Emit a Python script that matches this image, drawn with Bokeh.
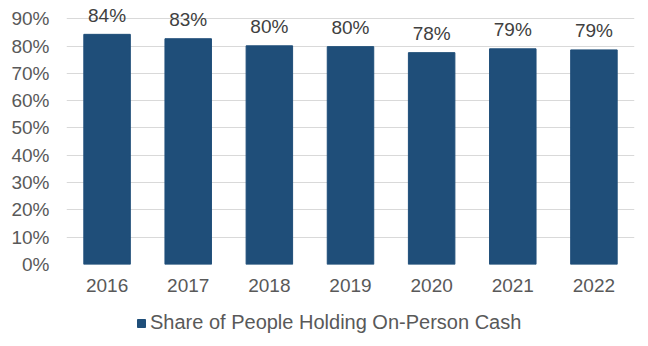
from bokeh.plotting import figure
from bokeh.layouts import column
from bokeh.models import ColumnDataSource, FactorRange, Range1d, FixedTicker, Legend, LegendItem
from bokeh.core.properties import value
from bokeh.embed import file_html
from bokeh.resources import INLINE

years = ["2016", "2017", "2018", "2019", "2020", "2021", "2022"]
share = [84.3, 82.7, 80.1, 79.8, 77.6, 79.0, 78.6]
series_name = "Share of People Holding On-Person Cash"
y_ticks = [0, 10, 20, 30, 40, 50, 60, 70, 80, 90]
y_tick_labels = {t: f"{t}%" for t in y_ticks}

labels = [f"{round(v)}%" for v in share]
src = ColumnDataSource(dict(year=years, share=share, label=labels))

FONT = "Liberation Sans"
FS = "19px"
BAR = "#1F4E79"

p = figure(width=648, height=300, frame_width=568, frame_height=264,
           x_range=FactorRange(*years), y_range=Range1d(0, 96.7),
           output_backend="svg", toolbar_location=None,
           min_border_left=66, min_border_right=14, min_border_top=0, min_border_bottom=36)
p.outline_line_color = None
p.background_fill_color = "white"
p.border_fill_color = "white"

bars = p.vbar(x="year", top="share", width=0.573, source=src, color=BAR)

p.text(x="year", y="share", text="label", source=src, text_align="center",
       text_baseline="alphabetic", y_offset=-19, text_font=value(FONT),
       text_font_size=FS, text_color="#404040")

p.xgrid.grid_line_color = None
p.ygrid.grid_line_color = "#D9D9D9"
p.ygrid.grid_line_width = 1
p.yaxis.ticker = FixedTicker(ticks=y_ticks)
p.yaxis.major_label_overrides = y_tick_labels

for ax in (p.xaxis[0], p.yaxis[0]):
    ax.axis_line_color = None
    ax.major_tick_line_color = None
    ax.minor_tick_line_color = None
    ax.major_tick_out = 0
    ax.major_tick_in = 0
    ax.major_label_text_font = FONT
    ax.major_label_text_font_size = FS
    ax.major_label_text_color = "#595959"
p.yaxis.major_label_standoff = 17
p.xaxis.major_label_standoff = 14

# legend strip below the chart (same series, drawn out of view so only its key shows)
lg = figure(width=648, height=46, x_range=FactorRange(*years), y_range=Range1d(101, 102),
            output_backend="svg", toolbar_location=None,
            min_border_left=0, min_border_right=0, min_border_top=0, min_border_bottom=0)
lg.axis.visible = False
lg.grid.visible = False
lg.outline_line_color = None
lg.background_fill_color = "white"
lg.border_fill_color = "white"
key = lg.vbar(x="year", top="share", width=0.573, source=src, color=BAR)

legend = Legend(items=[LegendItem(label=series_name, renderers=[key])],
                location=(70, 12), orientation="horizontal",
                glyph_width=10, glyph_height=10, label_standoff=4,
                label_text_font=FONT, label_text_font_size="20px", label_text_color="#595959",
                border_line_color=None, background_fill_alpha=0,
                padding=0, margin=0, spacing=0)
lg.add_layout(legend)

layout = column(p, lg, spacing=0)
open("out.html", "w").write(file_html(layout, INLINE))
